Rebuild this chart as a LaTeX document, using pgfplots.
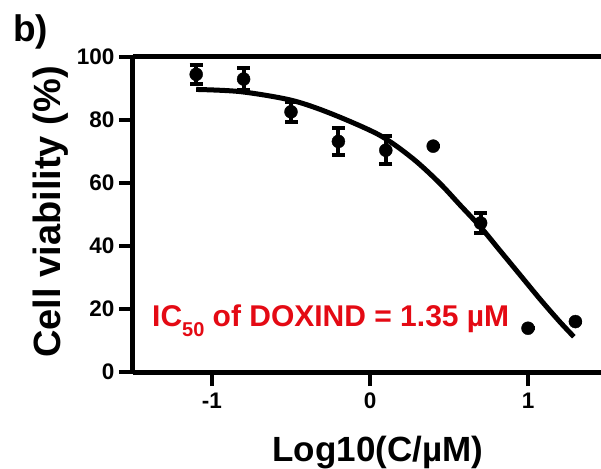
\documentclass[border=0pt]{standalone}
\usepackage{fontspec}
\setmainfont{Liberation Sans}
\usepackage{pgfplots}
\usepackage{pgfplotstable}
\pgfplotsset{compat=1.18}
\definecolor{icred}{RGB}{228,10,20}

\pgfplotstableread{
x y err
-1.1 94.5 3.0
-0.8 93.0 3.5
-0.5 82.6 3.2
-0.2 73.2 4.3
0.1 70.4 4.4
0.4 71.7 0
0.7 47.3 3.2
1.0 13.9 0
1.3 16.0 0
}\meas

\pgfplotstableread{
x y
-1.10 89.7
-0.82 89.0
-0.50 86.3
-0.25 82.1
0.06 75.2
0.27 67.8
0.44 60.0
0.57 53.0
0.70 46.0
0.82 38.7
0.95 30.8
1.08 22.9
1.20 16.0
1.29 11.2
}\fit

\begin{document}
\begin{tikzpicture}
\useasboundingbox (-133pt,-96pt) rectangle (468pt,372pt);
\begin{axis}[
  at={(0,0)}, anchor=south west,
  scale only axis, width=468pt, height=315pt,
  xmin=-1.5, xmax=1.462, ymin=0, ymax=100,
  axis lines*=left,
  axis line style={line width=5pt, -},
  xtick={-1,0,1}, xticklabels={-1,0,1},
  ytick={0,20,40,60,80,100}, yticklabels={0,20,40,60,80,100},
  tick align=outside, major tick length=14pt,
  major tick style={line width=4.5pt, black},
  ticklabel style={font=\fontsize{22.5}{22.5}\selectfont\bfseries},
  xticklabel style={yshift=-3pt},
  yticklabel style={xshift=-1pt},
  xlabel={Log10(C/µM)},
  ylabel={Cell viability (\%)},
  xlabel style={font=\fontsize{35}{35}\selectfont\bfseries, at={(axis description cs:0.523,-0.283)}, anchor=base},
  ylabel style={font=\fontsize{38}{38}\selectfont\bfseries, at={(axis description cs:-0.154,0.508)}, anchor=base},
  clip=false,
]
\draw[line width=5pt] (rel axis cs:0,1) -- (rel axis cs:1,1);
\addplot[line width=5pt, smooth, black] table[x=x, y=y] {\fit};
\addplot[only marks, mark=*, mark size=6.5pt, black,
  error bars/.cd, y dir=both, y explicit,
  error bar style={line width=4pt, black},
  error mark options={rotate=90, mark size=6.5pt, line width=4pt, black}]
  table[x=x, y=y, y error=err] {\meas};
\node[anchor=base west, text=icred, font=\fontsize{30}{30}\selectfont\bfseries, inner sep=0pt]
  at (axis cs:-1.38,14.3) {IC\raisebox{-10pt}{\fontsize{20}{20}\selectfont 50} of DOXIND = 1.35 µM};
\end{axis}
\node[anchor=base west, inner sep=0pt, font=\fontsize{37}{37}\selectfont\bfseries] at (-120pt,330pt) {b)};
\end{tikzpicture}
\end{document}
